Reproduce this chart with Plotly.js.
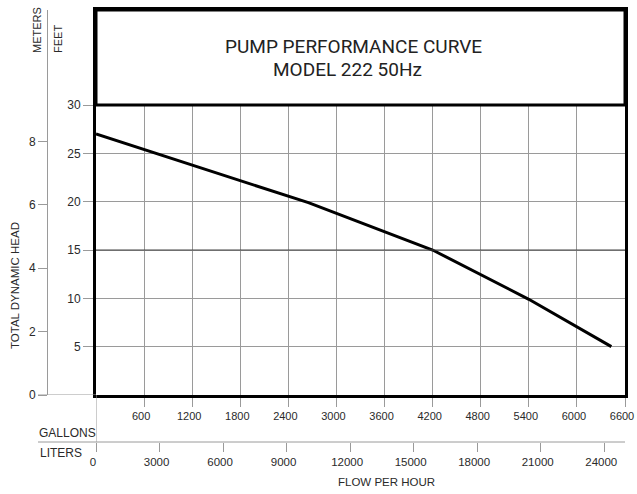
<!DOCTYPE html>
<html><head><meta charset="utf-8">
<script src="https://cdn.plot.ly/plotly-3.0.1.min.js"></script>
<style>html,body{margin:0;padding:0;background:#fff}</style>
</head><body>
<div id="chart" style="width:637px;height:494px"></div>
<script>
// ---- data ----
const flowGallons = [0, 2650, 4200, 5400, 6430];
const headFeet    = [27.0, 19.9, 15.0, 9.9, 5.0];
const gallonTicks = [600, 1200, 1800, 2400, 3000, 3600, 4200, 4800, 5400, 6000, 6600];
const literTicks  = [0, 3000, 6000, 9000, 12000, 15000, 18000, 21000, 24000];
const feetTicks   = [5, 10, 15, 20, 25, 30];
const meterTicks  = [0, 2, 4, 6, 8];
const titleLines  = ['PUMP PERFORMANCE CURVE', 'MODEL 222 50Hz'];
const L_PER_GAL = 3.785;
const FT_PER_M = 3.2808;
const gallonMax = 6600;
const feetMax = 39.83;
const chartTop = 30;

// ---- layout geometry (pixels -> paper) ----
const W = 637, H = 494, ml = 47, mr = 12, mt = 10, mb = 52;
const pw = W - ml - mr, ph = H - mt - mb;
const px = v => (v - ml) / pw;
const py = v => (H - mb - v) / ph;
const xDom = [px(96), 1];
const yDom = [py(395), 1];

const FONT = 'Liberation Sans, Arial, sans-serif';
const TFONT = 'Roboto, Liberation Sans, Arial, sans-serif';
const TXT = '#2a2a2a';
const GRID = '#9a9a9a';

const traces = [
  {x: flowGallons, y: headFeet, type: 'scatter', mode: 'lines',
   line: {color: '#000', width: 3}, hoverinfo: 'skip', showlegend: false},
  {x: flowGallons, y: headFeet.map(v => v / FT_PER_M), yaxis: 'y2', type: 'scatter', mode: 'lines',
   line: {color: 'rgba(0,0,0,0)', width: 0}, hoverinfo: 'skip', showlegend: false},
  {x: flowGallons.map(v => v * L_PER_GAL), y: headFeet, xaxis: 'x2', type: 'scatter', mode: 'lines',
   line: {color: 'rgba(0,0,0,0)', width: 0}, hoverinfo: 'skip', showlegend: false}
];

const layout = {
  width: W, height: H,
  margin: {l: ml, r: mr, t: mt, b: mb, pad: 0},
  paper_bgcolor: '#fff', plot_bgcolor: '#fff',
  showlegend: false,
  font: {family: FONT, color: TXT, size: 12},
  xaxis: {domain: xDom, range: [0, gallonMax], tickmode: 'array', tickvals: gallonTicks,
    tickformat: 'd', ticklabeloverflow: 'allow', ticklabelshift: -3,
    ticks: 'outside', ticklen: 9, tickcolor: GRID, tickwidth: 1,
    showgrid: true, gridcolor: GRID, gridwidth: 1, zeroline: false,
    showline: true, linecolor: '#000', linewidth: 3, mirror: true,
    tickfont: {size: 11, color: TXT, family: FONT}, fixedrange: true},
  xaxis2: {overlaying: 'x', anchor: 'free', position: 0, side: 'bottom',
    range: [0, gallonMax * L_PER_GAL], tickmode: 'array', tickvals: literTicks,
    tickformat: 'd', ticklabeloverflow: 'allow', ticklabelshift: -3,
    ticks: 'outside', ticklen: 9, tickcolor: GRID, tickwidth: 1,
    showgrid: false, zeroline: false, showline: false,
    tickfont: {size: 11.5, color: TXT, family: FONT}, fixedrange: true},
  yaxis: {domain: yDom, range: [0, feetMax], tickmode: 'array', tickvals: feetTicks,
    ticks: 'outside', ticklen: 10, tickcolor: GRID, tickwidth: 1,
    showgrid: true, gridcolor: GRID, gridwidth: 1, zeroline: false,
    showline: true, linecolor: '#000', linewidth: 3, mirror: true,
    tickfont: {size: 12, color: TXT, family: FONT}, fixedrange: true},
  yaxis2: {overlaying: 'y', anchor: 'free', position: 0, side: 'left',
    range: [0, feetMax / FT_PER_M], tickmode: 'array', tickvals: meterTicks,
    ticks: 'outside', ticklen: 9, tickcolor: GRID, tickwidth: 1,
    showgrid: false, zeroline: false, showline: true, linecolor: GRID, linewidth: 1,
    tickfont: {size: 12, color: TXT, family: FONT}, fixedrange: true},
  shapes: [
    // darker 15 ft line
    {type: 'line', xref: 'x domain', yref: 'y', x0: 0, x1: 1, y0: 15, y1: 15,
     line: {color: '#444', width: 1.2}, layer: 'above'},
    // title box covering the grid above 30 ft
    {type: 'rect', xref: 'x domain', yref: 'y', x0: 0, x1: 1, y0: chartTop, y1: feetMax,
     fillcolor: '#fff', line: {color: '#000', width: 3}, layer: 'above'},
    // gallons baseline extension to the left
    {type: 'line', xref: 'paper', yref: 'y', x0: px(38), x1: xDom[0], y0: 0, y1: 0,
     line: {color: GRID, width: 1}},
    // liters axis line
    {type: 'line', xref: 'paper', yref: 'paper', x0: px(38), x1: 1, y0: 0, y1: 0,
     line: {color: GRID, width: 1}},
    // connector at zero flow
    {type: 'line', xref: 'x', yref: 'paper', x0: 0, x1: 0, y0: 0, y1: yDom[0],
     line: {color: GRID, width: 1}}
  ],
  annotations: [
    {text: titleLines[0], xref: 'paper', yref: 'paper', x: px(353), y: py(46.5), showarrow: false,
     xanchor: 'center', yanchor: 'middle', font: {family: TFONT, size: 19, color: '#222'}},
    {text: titleLines[1], xref: 'paper', yref: 'paper', x: px(347.5), y: py(70), showarrow: false,
     xanchor: 'center', yanchor: 'middle', font: {family: TFONT, size: 19, color: '#222'}},
    {text: 'GALLONS', xref: 'paper', yref: 'paper', x: px(37), y: py(433), showarrow: false,
     xanchor: 'left', yanchor: 'middle', font: {size: 12, color: TXT}},
    {text: 'LITERS', xref: 'paper', yref: 'paper', x: px(38), y: py(453), showarrow: false,
     xanchor: 'left', yanchor: 'middle', font: {size: 12, color: TXT}},
    {text: 'FLOW PER HOUR', xref: 'paper', yref: 'paper', x: px(386), y: py(482), showarrow: false,
     xanchor: 'center', yanchor: 'middle', font: {size: 11.5, color: TXT}},
    {text: 'TOTAL DYNAMIC HEAD', xref: 'paper', yref: 'paper', x: px(15), y: py(286), showarrow: false,
     textangle: -90, xanchor: 'center', yanchor: 'middle', font: {size: 11.5, color: TXT}},
    {text: 'METERS', xref: 'paper', yref: 'paper', x: px(37), y: py(55), showarrow: false,
     textangle: -90, xanchor: 'center', yanchor: 'bottom', font: {size: 11, color: TXT}},
    {text: 'FEET', xref: 'paper', yref: 'paper', x: px(58), y: py(55), showarrow: false,
     textangle: -90, xanchor: 'center', yanchor: 'bottom', font: {size: 11, color: TXT}}
  ]
};

Plotly.newPlot('chart', traces, layout, {displayModeBar: false, staticPlot: true});
</script>
</body></html>
